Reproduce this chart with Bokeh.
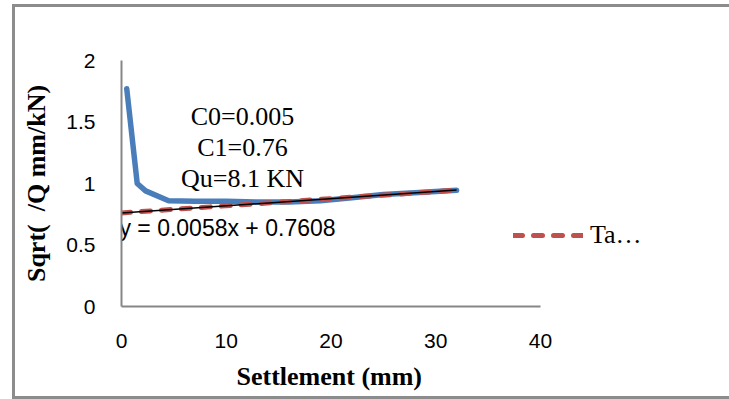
from bokeh.plotting import figure
from bokeh.models import Range1d, Legend, LegendItem, FixedTicker, Title
from bokeh.core.properties import value
from bokeh.embed import file_html
from bokeh.resources import INLINE

# ---- data ----
settlement = [0.5, 1.5, 2.3, 4.5, 7, 10, 13, 16, 19, 22, 25, 28, 32]
sqrt_q = [1.77, 1.00, 0.94, 0.86, 0.855, 0.855, 0.85, 0.85, 0.86, 0.885, 0.91, 0.925, 0.945]
trend_x = [0, 32]
trend_y = [0.7608, 0.9464]
x_ticks = [0, 10, 20, 30, 40]
y_ticks = [0, 0.5, 1, 1.5, 2]
notes = ["C0=0.005", "C1=0.76", "Qu=8.1 KN"]
equation = ["y = 0.0058x + 0.7608"]
legend_label = "Ta…"
x_title = "Settlement (mm)"
y_title = "Sqrt(\u00a0 /Q mm/kN)"

p = figure(frame_width=576, frame_height=246,
           x_range=Range1d(0, 55), y_range=Range1d(0, 2),
           output_backend="svg", toolbar_location=None,
           min_border_left=109, min_border_right=45,
           min_border_top=56, min_border_bottom=92)
# chart-area frame (left, top, bottom) drawn as inset shadows on the host;
# the frame continues past the right edge of the window, as in the reference
p.styles = {"margin-left": "12px",
            "margin-top": "4px",
            "box-shadow": "inset 3px 0 0 0 #8c8c8c, inset 0 3px 0 0 #8c8c8c, inset 0 -3px 0 0 #8c8c8c"}
p.border_fill_color = None
p.background_fill_color = None

p.outline_line_color = None
p.xgrid.visible = False
p.ygrid.visible = False

for ax in (p.xaxis[0], p.yaxis[0]):
    ax.axis_line_color = "#868686"
    ax.axis_line_width = 2
    ax.major_tick_line_color = None
    ax.minor_tick_line_color = None
    ax.major_label_text_font = "Liberation Sans"
    ax.major_label_text_font_size = "21px"
    ax.major_label_text_color = "#000000"
    ax.axis_label_text_font = "Liberation Serif"
    ax.axis_label_text_font_size = "26px"
    ax.axis_label_text_font_style = "bold"
    ax.axis_label_text_color = "#000000"

p.xaxis.ticker = FixedTicker(ticks=x_ticks)
p.xaxis.bounds = (x_ticks[0], x_ticks[-1])
p.yaxis.ticker = FixedTicker(ticks=y_ticks)
p.yaxis.major_label_overrides = {0: "0", 0.5: "0.5", 1: "1", 1.5: "1.5", 2: "2"}
p.yaxis.axis_label = y_title
p.xaxis.major_label_standoff = 21
p.yaxis.major_label_standoff = 20
p.yaxis.major_label_orientation = "horizontal"
p.yaxis.axis_label_standoff = 12

# x-axis title centred under the 0-40 axis
p.add_layout(Title(text=x_title, align="left", offset=115, standoff=18,
                   text_font="Liberation Serif", text_font_size="26px",
                   text_font_style="bold", text_color="#000000"), "below")

p.line(settlement, sqrt_q, line_color="#4A7EBB", line_width=5.5, line_join="round", line_cap="round")
red = p.line(trend_x, trend_y, line_color="#C0504D", line_width=5, line_dash="9 11", line_cap="round")
p.line(trend_x, trend_y, line_color="#000000", line_width=1.5)

p.text(x=[11.55] * 3, y=[1.545, 1.293, 1.04], text=notes,
       text_font=value("Liberation Serif"), text_font_size="26px",
       text_align="center", text_baseline="middle", text_color="#000000")
p.text(x=[10.12], y=[0.642], text=equation,
       text_font=value("Liberation Sans"), text_font_size="23px",
       text_align="center", text_baseline="middle", text_color="#000000")

legend = Legend(items=[LegendItem(label=legend_label, renderers=[red])],
                location=(392, 56), glyph_width=70, glyph_height=30,
                label_height=30, label_standoff=7, padding=0, margin=0,
                border_line_alpha=0, background_fill_alpha=0,
                label_text_font="Liberation Serif", label_text_font_size="26px",
                label_text_color="#000000")
p.add_layout(legend)

open("out.html", "w").write(file_html(p, INLINE))
